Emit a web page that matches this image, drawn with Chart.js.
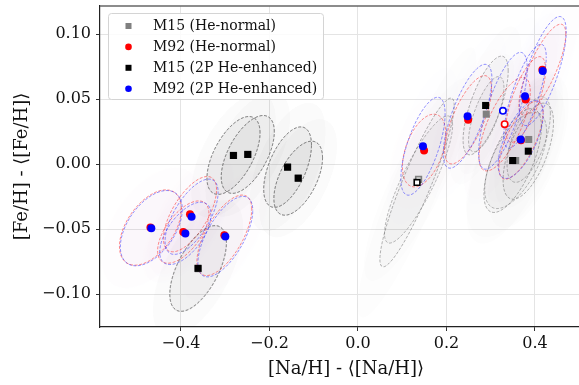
<!DOCTYPE html>
<html>
<head>
<meta charset="utf-8">
<script src="https://cdn.jsdelivr.net/npm/chart.js@4.4.1/dist/chart.umd.min.js"></script>
<style>
  html, body { margin: 0; padding: 0; background: #fff; overflow: hidden; }
  #wrap { width: 600px; height: 385px; }
</style>
</head>
<body>
<div id="wrap"><canvas id="chart"></canvas></div>
<script>
// M15, He-normal (grey squares)
const m15NormX   = [-0.361, -0.281, -0.249, -0.159, -0.135, 0.137, 0.290, 0.386, 0.3565];
const m15NormY   = [-0.0805, 0.0067, 0.0075, -0.0023, -0.0108, -0.0118, 0.0385, 0.019, 0.0028];
const m15NormOpen = [0, 0, 0, 0, 0, 1, 0, 0, 0];
const m15NormSx  = [0.064, 0.060, 0.060, 0.054, 0.055, 0.077, 0.040, 0.049, 0.070];
const m15NormSy  = [0.033, 0.030, 0.030, 0.031, 0.0285, 0.049, 0.029, 0.033, 0.037];
const m15NormRho = [0.6, 0.58, 0.58, 0.55, 0.55, 0.85, 0.7, 0.6, 0.6];

// M92, He-normal (red circles)
const m92NormX   = [-0.469, -0.3796, -0.3948, -0.302, 0.1495, 0.249, 0.3316, 0.379, 0.4168, 0.3685];
const m92NormY   = [-0.0488, -0.0385, -0.0523, -0.0548, 0.0105, 0.0342, 0.0308, 0.0498, 0.0728, 0.0185];
const m92NormOpen = [0, 0, 0, 0, 0, 0, 1, 0, 0, 0];
const m92NormSx  = [0.070, 0.060, 0.058, 0.062, 0.049, 0.053, 0.058, 0.045, 0.053, 0.050];
const m92NormSy  = [0.029, 0.029, 0.024, 0.031, 0.028, 0.034, 0.036, 0.033, 0.035, 0.030];
const m92NormRho = [0.5, 0.65, 0.6, 0.65, 0.45, 0.7, 0.7, 0.7, 0.78, 0.7];

// M15, 2P He-enhanced (black squares)
const m15EnhX   = [-0.3615, -0.2815, -0.249, -0.159, -0.135, 0.1336, 0.2886, 0.385, 0.3497];
const m15EnhY   = [-0.0802, 0.0067, 0.0075, -0.0023, -0.0108, -0.0141, 0.0452, 0.010, 0.0028];
const m15EnhOpen = [0, 0, 0, 0, 0, 1, 0, 0, 0];
const m15EnhSx  = [0.064, 0.060, 0.060, 0.054, 0.055, 0.084, 0.051, 0.057, 0.065];
const m15EnhSy  = [0.033, 0.030, 0.030, 0.031, 0.0285, 0.065, 0.038, 0.037, 0.040];
const m15EnhRho = [0.6, 0.58, 0.58, 0.55, 0.55, 0.91, 0.7, 0.6, 0.65];

// M92, 2P He-enhanced (blue circles)
const m92EnhX   = [-0.467, -0.376, -0.390, -0.2997, 0.147, 0.2478, 0.3277, 0.3776, 0.4177, 0.3678];
const m92EnhY   = [-0.0493, -0.0405, -0.0533, -0.0558, 0.0138, 0.0369, 0.0411, 0.0523, 0.0717, 0.019];
const m92EnhOpen = [0, 0, 0, 0, 0, 0, 1, 0, 0, 0];
const m92EnhSx  = [0.070, 0.060, 0.058, 0.062, 0.050, 0.055, 0.055, 0.048, 0.053, 0.051];
const m92EnhSy  = [0.029, 0.029, 0.024, 0.031, 0.0377, 0.040, 0.045, 0.040, 0.042, 0.030];
const m92EnhRho = [0.5, 0.65, 0.6, 0.65, 0.66, 0.72, 0.72, 0.75, 0.72, 0.65];

const xTicks = [-0.4, -0.2, 0.0, 0.2, 0.4];
const yTicks = [-0.10, -0.05, 0.00, 0.05, 0.10];

const SERIF = "'DejaVu Serif', serif";
Chart.defaults.font.family = SERIF;
Chart.defaults.color = '#111';

function pts(xs, ys) {
  return xs.map((x, i) => ({x: x, y: ys[i]}));
}

function makeSet(label, xs, ys, open, sx, sy, rho, color, style, radius, order, ell) {
  return {
    label: label,
    data: pts(xs, ys),
    order: order,
    pointStyle: style,
    pointRadius: c => open[c.dataIndex] ? radius * 0.8 : radius,
    backgroundColor: c => open[c.dataIndex] ? '#fff' : color,
    borderColor: color,
    borderWidth: c => open[c.dataIndex] ? 1.6 : 0,
    showLine: false,
    sx: sx, sy: sy, rho: rho,
    ell: ell
  };
}

// later series are drawn on top (lower order = drawn last)
const datasets = [
  makeSet('M15 (He-normal)', m15NormX, m15NormY, m15NormOpen, m15NormSx, m15NormSy, m15NormRho,
    'rgb(128,128,128)', 'rect', 5, 4,
    {line: 'rgba(90,90,90,0.45)', haze: ['rgba(120,120,120,0.035)', 'rgba(120,120,120,0.012)'], offset: 0}),
  makeSet('M92 (He-normal)', m92NormX, m92NormY, m92NormOpen, m92NormSx, m92NormSy, m92NormRho,
    'rgb(255,0,0)', 'circle', 4, 3,
    {line: 'rgba(255,40,40,0.6)', haze: ['rgba(225,130,180,0.025)', 'rgba(225,130,180,0.01)'], offset: 0}),
  makeSet('M15 (2P He-enhanced)', m15EnhX, m15EnhY, m15EnhOpen, m15EnhSx, m15EnhSy, m15EnhRho,
    'rgb(0,0,0)', 'rect', 5, 2,
    {line: 'rgba(70,70,70,0.45)', haze: ['rgba(120,120,120,0.035)', 'rgba(120,120,120,0.012)'], offset: 0}),
  makeSet('M92 (2P He-enhanced)', m92EnhX, m92EnhY, m92EnhOpen, m92EnhSx, m92EnhSy, m92EnhRho,
    'rgb(0,0,255)', 'circle', 4, 1,
    {line: 'rgba(50,50,255,0.6)', haze: ['rgba(150,130,230,0.025)', 'rgba(150,130,230,0.01)'], offset: 2.2})
];

function ellipsePath(ctx, xs, ys, cx, cy, sx, sy, rho, k) {
  const c = Math.sqrt(1 - rho * rho);
  ctx.beginPath();
  for (let i = 0; i <= 90; i++) {
    const t = i / 90 * 2 * Math.PI;
    const px = xs.getPixelForValue(cx + k * sx * Math.cos(t));
    const py = ys.getPixelForValue(cy + k * sy * (rho * Math.cos(t) + c * Math.sin(t)));
    if (i === 0) ctx.moveTo(px, py); else ctx.lineTo(px, py);
  }
  ctx.closePath();
}

const ellipses = {
  id: 'ellipses',
  beforeDatasetsDraw(chart) {
    const {ctx, chartArea: a, scales: {x, y}} = chart;
    ctx.save();
    ctx.beginPath();
    ctx.rect(a.left, a.top, a.right - a.left, a.bottom - a.top);
    ctx.clip();
    // faint haze of the sample clouds
    chart.data.datasets.forEach(ds => {
      ds.data.forEach((p, i) => {
        ellipsePath(ctx, x, y, p.x, p.y, ds.sx[i], ds.sy[i], ds.rho[i], 1.0);
        ctx.fillStyle = ds.ell.haze[0];
        ctx.fill();
        ellipsePath(ctx, x, y, p.x, p.y, ds.sx[i], ds.sy[i], ds.rho[i], 1.6);
        ctx.fillStyle = ds.ell.haze[1];
        ctx.fill();
      });
    });
    // dashed outlines
    chart.data.datasets.forEach(ds => {
      ctx.setLineDash([3, 1.6]);
      ctx.lineDashOffset = ds.ell.offset;
      ctx.lineWidth = 0.9;
      ctx.strokeStyle = ds.ell.line;
      ds.data.forEach((p, i) => {
        ellipsePath(ctx, x, y, p.x, p.y, ds.sx[i], ds.sy[i], ds.rho[i], 1);
        ctx.stroke();
      });
    });
    ctx.restore();
  },
  afterDatasetsDraw(chart) {
    const {ctx, chartArea: a} = chart;
    ctx.save();
    ctx.strokeStyle = '#666';
    ctx.lineWidth = 1.6;
    ctx.beginPath();
    ctx.moveTo(a.left, a.top);
    ctx.lineTo(a.right, a.top);
    ctx.stroke();
    ctx.restore();
  }
};

const boxLegend = {
  id: 'boxLegend',
  afterDraw(chart) {
    const {ctx} = chart;
    const bx = 108.5, by = 13.5, bw = 215, bh = 86;
    ctx.save();
    ctx.beginPath();
    ctx.roundRect(bx, by, bw, bh, 3);
    ctx.fillStyle = 'rgba(255,255,255,0.85)';
    ctx.fill();
    ctx.strokeStyle = '#d4d4d4';
    ctx.lineWidth = 1;
    ctx.stroke();
    ctx.font = '14px ' + SERIF;
    ctx.textBaseline = 'middle';
    chart.data.datasets.forEach((ds, i) => {
      const cy = 26 + i * 20.9;
      const cx = 128.5;
      ctx.fillStyle = ds.borderColor;
      if (ds.pointStyle === 'rect') {
        ctx.fillRect(cx - 3, cy - 3, 6, 6);
      } else {
        ctx.beginPath();
        ctx.arc(cx, cy, 3.3, 0, 2 * Math.PI);
        ctx.fill();
      }
      ctx.fillStyle = '#111';
      ctx.fillText(ds.label, 153, cy + 0.5);
    });
    ctx.restore();
  }
};

function fmt(v, d) {
  const s = Math.abs(v).toFixed(d);
  return (v < -1e-9 ? '\u2212' : '') + s;
}

new Chart(document.getElementById('chart'), {
  type: 'scatter',
  data: {datasets: datasets},
  options: {
    responsive: true,
    maintainAspectRatio: false,
    animation: false,
    layout: {padding: {left: 0, right: 8, top: 6, bottom: 0}},
    plugins: {legend: {display: false}, tooltip: {enabled: false}},
    scales: {
      x: {
        type: 'linear',
        min: -0.583,
        max: 0.529,
        afterFit: s => { s.height = 58; s.paddingLeft = 0; s.paddingRight = 0; },
        afterBuildTicks: s => { s.ticks = xTicks.map(v => ({value: v})); },
        ticks: {
          font: {size: 16},
          color: '#111',
          padding: 3,
          maxRotation: 0,
          callback: v => fmt(v, 1)
        },
        grid: {color: '#e4e4e4', lineWidth: 1, tickLength: 4, tickColor: '#333'},
        border: {color: '#222', width: 1.2},
        title: {
          display: true,
          text: '[Na/H] - \u27e8[Na/H]\u27e9',
          font: {size: 18},
          color: '#111',
          padding: {top: 0, bottom: 5}
        }
      },
      y: {
        type: 'linear',
        min: -0.1254,
        max: 0.1218,
        afterFit: s => { s.width = 100; s.paddingTop = 0; s.paddingBottom = 0; },
        afterBuildTicks: s => { s.ticks = yTicks.map(v => ({value: v})); },
        ticks: {
          font: {size: 16},
          color: '#111',
          padding: 5,
          callback: v => fmt(v, 2)
        },
        grid: {color: '#e4e4e4', lineWidth: 1, tickLength: 4, tickColor: '#333'},
        border: {color: '#222', width: 1.2},
        title: {
          display: true,
          text: '[Fe/H] - \u27e8[Fe/H]\u27e9',
          font: {size: 18},
          color: '#111',
          padding: {top: 12, bottom: 0}
        }
      }
    }
  },
  plugins: [ellipses, boxLegend]
});
</script>
</body>
</html>
